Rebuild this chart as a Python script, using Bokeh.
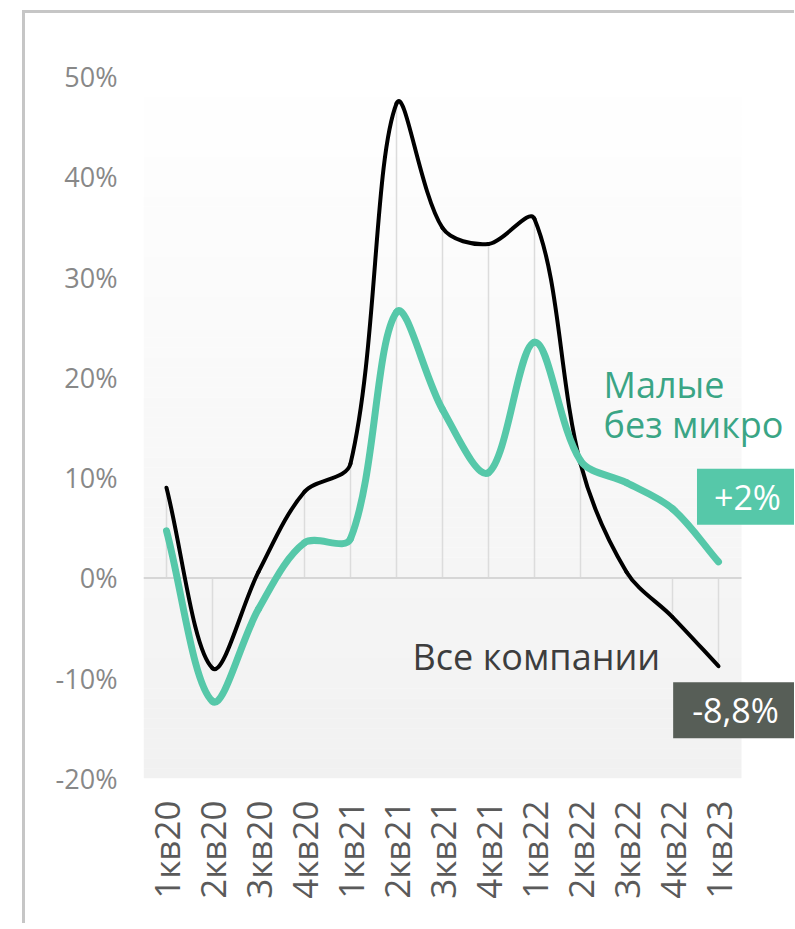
import math
from bokeh.plotting import figure
from bokeh.models import Range1d, FixedTicker, Label, Spacer
from bokeh.layouts import column, row
from bokeh.embed import file_html
from bokeh.resources import INLINE

# ---- data ----
quarters = ["1кв20", "2кв20", "3кв20", "4кв20", "1кв21", "2кв21", "3кв21",
            "4кв21", "1кв22", "2кв22", "3кв22", "4кв22", "1кв23"]
all_companies = [9.0, -9.0, 0.6, 8.6, 11.4, 47.3, 34.9, 33.3, 35.8, 11.4, 0.6, -3.9, -8.8]
small_no_micro = [4.7, -12.3, -3.1, 3.5, 3.9, 26.5, 16.8, 10.5, 23.5, 11.7, 9.5, 6.9, 1.6]
y_ticks = [-20, -10, 0, 10, 20, 30, 40, 50]
y_tick_labels = ["-20%", "-10%", "0%", "10%", "20%", "30%", "40%", "50%"]
label_small = ["Малые", "без микро"]
label_all = "Все компании"
last_small = "+2%"
last_all = "-8,8%"

FONT = "Open Sans"
GREEN = "#56C8A9"
GREEN_TEXT = "#3AA585"
DARK_BOX = "#575E57"
FRAME = "#c6c6c6"

xs = list(range(len(quarters)))
x_lo, x_hi = -0.5, len(quarters) - 0.5

W, H = 769, 910
LEFT, TOP, BOTTOM = 118, 63, 145
PX_PER_X = 46.0
x_end = x_lo + (W - LEFT) / PX_PER_X

p = figure(width=W, height=H, output_backend="svg", toolbar_location=None,
           x_range=Range1d(x_lo, x_end),
           y_range=Range1d(y_ticks[0], y_ticks[-1]),
           min_border_left=LEFT, min_border_right=0, min_border_top=TOP, min_border_bottom=BOTTOM)
p.outline_line_color = None
p.xgrid.visible = False
p.ygrid.visible = False
p.background_fill_color = "white"
p.border_fill_color = "white"

# background gradient (white at top -> light gray at bottom)
n_bands = 70
y0r, y1r = y_ticks[0], y_ticks[-1]
step = (y1r - y0r) / n_bands
bottoms, tops, cols = [], [], []
for k in range(n_bands):
    b = y0r + k * step
    frac = (b + step / 2 - y0r) / (y1r - y0r)
    g = int(round(0xF1 + (0xFF - 0xF1) * frac))
    bottoms.append(b)
    tops.append(b + step + 0.01)
    cols.append("#%02x%02x%02x" % (g, g, g))
p.quad(left=x_lo, right=x_hi, bottom=bottoms, top=tops, fill_color=cols, line_color=None)

# drop lines and zero line
p.segment(x0=xs, y0=[0] * len(xs), x1=xs, y1=all_companies, line_color="#dcdcdc", line_width=1.5)
p.segment(x0=[x_lo], y0=[0], x1=[x_hi], y1=[0], line_color="#d6d6d6", line_width=2)

SY = (H - TOP - BOTTOM) / (y1r - y0r)


def smooth(vals):
    n = len(vals)

    def dist(a, b):
        return math.hypot((b - a) * PX_PER_X, (vals[b] - vals[a]) * SY)

    out = dict(x0=[], y0=[], x1=[], y1=[], cx0=[], cy0=[], cx1=[], cy1=[])
    for i in range(n - 1):
        pm = max(i - 1, 0)
        pp = min(i + 2, n - 1)
        d01 = dist(i, i + 1)
        dp = dist(pm, i)
        dn = dist(i + 1, pp)
        f0 = d01 / (dp + d01) / 3.0
        f1 = d01 / (d01 + dn) / 3.0
        out["x0"].append(i); out["y0"].append(vals[i])
        out["x1"].append(i + 1); out["y1"].append(vals[i + 1])
        out["cx0"].append(i + (i + 1 - pm) * f0)
        out["cy0"].append(vals[i] + (vals[i + 1] - vals[pm]) * f0)
        out["cx1"].append(i + 1 - (pp - i) * f1)
        out["cy1"].append(vals[i + 1] - (vals[pp] - vals[i]) * f1)
    return out


p.bezier(**smooth(all_companies), line_color="black", line_width=4, line_cap="round")
p.bezier(**smooth(small_no_micro), line_color=GREEN, line_width=7, line_cap="round")

# axes
p.yaxis.ticker = FixedTicker(ticks=y_ticks)
p.yaxis.major_label_overrides = {t: l for t, l in zip(y_ticks, y_tick_labels)}
p.yaxis.axis_line_color = None
p.yaxis.major_tick_line_color = None
p.yaxis.minor_tick_line_color = None
p.yaxis.major_tick_out = 0
p.yaxis.major_label_standoff = 26
p.yaxis.major_label_text_font = FONT
p.yaxis.major_label_text_font_size = "27px"
p.yaxis.major_label_text_color = "#888888"

p.xaxis.ticker = FixedTicker(ticks=xs)
p.xaxis.major_label_overrides = {i: q for i, q in zip(xs, quarters)}
p.xaxis.major_label_orientation = math.pi / 2
p.xaxis.axis_line_color = None
p.xaxis.major_tick_line_color = None
p.xaxis.minor_tick_line_color = None
p.xaxis.major_tick_out = 0
p.xaxis.major_label_standoff = 22
p.xaxis.major_label_text_font = FONT
p.xaxis.major_label_text_font_size = "35px"
p.xaxis.major_label_text_color = "#5a5a5a"

# annotations
p.add_layout(Label(x=9.5, y=19.3, text=label_small[0], text_font=FONT, text_font_size="36px",
                   text_color=GREEN_TEXT, text_baseline="alphabetic"))
p.add_layout(Label(x=9.5, y=15.3, text=label_small[1], text_font=FONT, text_font_size="36px",
                   text_color=GREEN_TEXT, text_baseline="alphabetic"))
p.add_layout(Label(x=5.35, y=-7.8, text=label_all, text_font=FONT, text_font_size="36px",
                   text_color="#3d3d3d", text_baseline="alphabetic"))
p.add_layout(Label(x=12.63, y=8.1, text=last_small, text_font=FONT, text_font_size="34px",
                   text_color="white", text_align="center", text_baseline="middle",
                   background_fill_color=GREEN,
                   padding=dict(left=17, right=17, top=5, bottom=5)))
p.add_layout(Label(x=12.37, y=-13.2, text=last_all, text_font=FONT, text_font_size="34px",
                   text_color="white", text_align="center", text_baseline="middle",
                   background_fill_color=DARK_BOX,
                   padding=dict(left=19, right=19, top=5, bottom=5)))

# light frame lines (top and left) around the chart
top_line = Spacer(width=W + 3, height=3, styles={"background-color": FRAME})
left_line = Spacer(width=3, height=H, styles={"background-color": FRAME})
layout = column(Spacer(width=10, height=10),
                row(Spacer(width=22, height=10),
                    column(top_line, row(left_line, p, spacing=0), spacing=0),
                    spacing=0),
                spacing=0)

open("out.html", "w").write(file_html(layout, INLINE))
